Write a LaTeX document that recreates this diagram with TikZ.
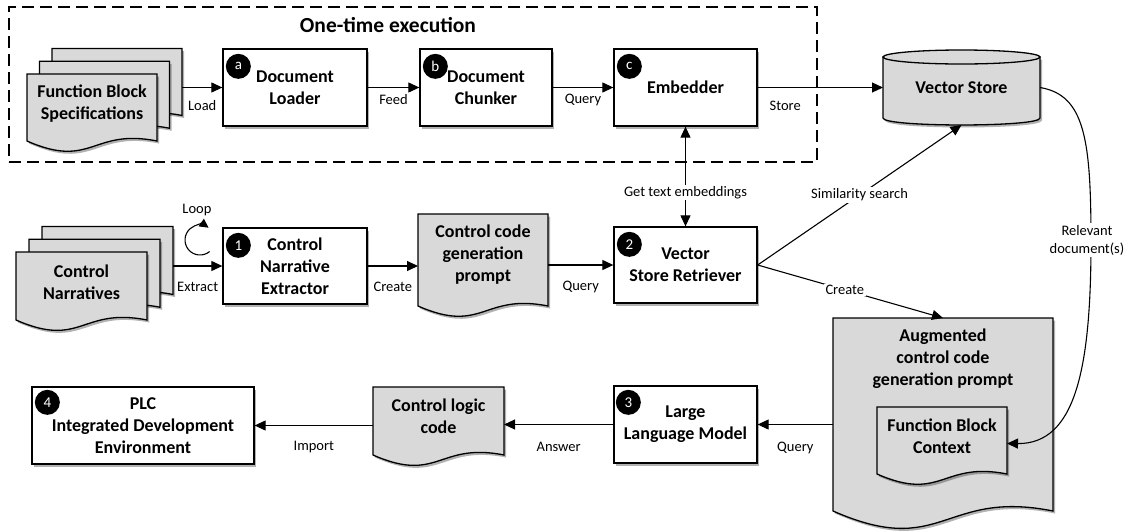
\documentclass[tikz,border=0pt]{standalone}
\usepackage{fontspec}
\setmainfont{Carlito}
\usetikzlibrary{arrows.meta,calc,shadows}
\definecolor{docgray}{RGB}{217,217,217}
\tikzset{
  shd/.style={drop shadow={shadow xshift=2pt,shadow yshift=-2.5pt,opacity=0.3,fill=black}},
  boxnode/.style={draw, line width=1.3pt, fill=white, shd, align=center,
    font=\bfseries\fontsize{18}{22}\selectfont, inner sep=0pt},
  docnode/.style={inner sep=0pt, outer sep=0pt},
  docfill/.style={draw, line width=1.3pt, fill=docgray, shd},
  doctext/.style={align=center, font=\bfseries\fontsize{18}{22}\selectfont, inner sep=0pt},
  badge/.style={circle, fill=black, text=white, inner sep=0pt, minimum size=25pt,
    font=\fontsize{15}{15}\selectfont},
  arr/.style={line width=1.1pt, -{Triangle[length=11pt,width=10pt]}},
  arrtwo/.style={line width=1.1pt, {Triangle[length=11pt,width=10pt]}-{Triangle[length=11pt,width=10pt]}},
  elabel/.style={font=\fontsize{14.5}{18}\selectfont, inner sep=1.5pt, align=center},
  wlabel/.style={elabel, fill=white},
  ttlstyle/.style={font=\bfseries\fontsize{21.5}{26}\selectfont},
  frmbox/.style={draw, line width=1.3pt, dash pattern=on 12pt off 6pt, inner sep=0pt}
}
\newcommand{\docoutline}[1]{%
  \path[docfill] let \p1=($(#1.east)-(#1.west)$) in
    (#1.north west) -- (#1.north east) -- (#1.south east)
    .. controls ($(#1.south)+(0pt,0.1*\x1)$) and ($(#1.south)+(0pt,-0.22*\x1)$) .. (#1.south west) -- cycle;}
\begin{document}
\begin{tikzpicture}[x=1pt,y=-1pt]
\useasboundingbox (0,0) rectangle (1125,531);

% one-time execution frame
\node[frmbox, minimum width=808pt, minimum height=155pt] (frame) at (413,84.5) {};
\node[ttlstyle] (ttl) at (388,25) {One-time execution};

% Function block specifications stack
\node[docnode, minimum width=130pt, minimum height=67pt] (fbs3) at (117,82) {};
\node[docnode, minimum width=130pt, minimum height=67pt] (fbs2) at (104.5,94.75) {};
\node[docnode, minimum width=130pt, minimum height=67pt] (fbs) at (92,107.5) {};
\docoutline{fbs3}
\docoutline{fbs2}
\docoutline{fbs}
\node[doctext] (fbst) at ($(fbs)+(0pt,4pt)$) {Function Block\\Specifications};

% top row boxes
\node[boxnode, minimum width=144pt, minimum height=77pt] (loader) at (295,87.5) {Document\\Loader};
\node[boxnode, minimum width=132pt, minimum height=77pt] (chunker) at (486,87.5) {Document\\Chunker};
\node[boxnode, minimum width=143pt, minimum height=77pt] (emb) at (685.5,87.5) {Embedder};
\node[badge] (ba) at ($(loader.north west)+(16,18)$) {a};
\node[badge] (bb) at ($(chunker.north west)+(16,18)$) {b};
\node[badge] (bc) at ($(emb.north west)+(16,18)$) {c};

% vector store cylinder
\path[docfill] (883,57) -- (883,118) .. controls (883,127.3) and (1040,127.3) .. (1040,118) -- (1040,57) -- cycle;
\draw[line width=1.3pt, fill=docgray] (961.5,57) ellipse [x radius=78.5pt, y radius=7pt];
\node[docnode, minimum width=157pt, minimum height=75pt, font=\bfseries\fontsize{18}{22}\selectfont] (vs) at (961.5,87.5) {Vector Store};

% Control narratives stack
\node[docnode, minimum width=131pt, minimum height=68pt] (cn3) at (107.5,260.5) {};
\node[docnode, minimum width=131pt, minimum height=68pt] (cn2) at (94.5,273.25) {};
\node[docnode, minimum width=131pt, minimum height=68pt] (cn) at (81.5,286) {};
\docoutline{cn3}
\docoutline{cn2}
\docoutline{cn}
\node[doctext] (cnt) at ($(cn)+(0pt,4pt)$) {Control\\Narratives};

% middle row
\node[boxnode, minimum width=144pt, minimum height=76pt] (ext) at (295,266) {Control\\Narrative\\Extractor};
\node[badge] (b1) at ($(ext.north west)+(16,18)$) {1};
\node[docnode, minimum width=130pt, minimum height=92pt] (ccp) at (483,260) {};
\docoutline{ccp}
\node[doctext] (ccpt) at ($(ccp)+(0pt,5pt)$) {Control code\\generation\\prompt};
\node[boxnode, minimum width=143pt, minimum height=76pt] (ret) at (685.5,265) {Vector\\Store Retriever};
\node[badge] (b2) at ($(ret.north west)+(16,18)$) {2};

% augmented prompt
\node[docnode, minimum width=220pt, minimum height=193pt] (aug) at (943,414.5) {};
\docoutline{aug}
\node[doctext] (augt) at (943,359) {Augmented\\control code\\generation prompt};
\node[docnode, minimum width=130pt, minimum height=67pt] (fbc) at (942,440.5) {};
\docoutline{fbc}
\node[doctext] (fbct) at ($(fbc)+(0pt,4.5pt)$) {Function Block\\Context};

% bottom row
\node[boxnode, minimum width=222pt, minimum height=77pt] (plc) at (143,425.5) {PLC\\Integrated Development\\Environment};
\node[badge] (b4) at ($(plc.north west)+(16,16)$) {4};
\node[docnode, minimum width=131pt, minimum height=68pt] (clc) at (438.5,421) {};
\docoutline{clc}
\node[doctext] (clct) at ($(clc)+(0pt,4.5pt)$) {Control logic\\code};
\node[boxnode, minimum width=143pt, minimum height=77pt] (llm) at (685.5,424.5) {Large\\Language Model};
\node[badge] (b3) at ($(llm.north west)+(15,17)$) {3};

% connectors, top row
\draw[arr] (fbs3.east |- loader.west) -- node[elabel, midway, yshift=-18.5pt] (lload) {Load} (loader.west);
\draw[arr] (loader.east) -- node[elabel, midway, yshift=-12.5pt] (lfeed) {Feed} (chunker.west);
\draw[arr] (chunker.east) -- node[elabel, midway, yshift=-12.5pt] (lq1) {Query} (emb.west);
\draw[arr] (emb.east) -- node[elabel, pos=0.22, yshift=-18.5pt] (lstore) {Store} (vs.west);
\draw[arrtwo] (emb.south) -- node[wlabel, pos=0.66] (lget) {Get text embeddings} (ret.north);

% middle row
\draw[arr] (cn3.east |- ext.west) -- node[elabel, midway, yshift=-21pt] (lext) {Extract} (ext.west);
\draw[arr] (ext.east) -- node[elabel, midway, yshift=-21pt] (lcr1) {Create} (ext.east -| ccp.west);
\draw[arr] (ccp.east |- ret.west) -- node[elabel, midway, yshift=-21.5pt] (lq2) {Query} (ret.west);
\draw[arr] (ret.east) -- node[wlabel, pos=0.5] (lsim) {Similarity search} (vs.south);
\draw[arr] (ret.east) -- node[wlabel, pos=0.47] (lcr2) {Create} (aug.north);

% loop
\coordinate (loopc) at (200,240);
\draw[line width=1.1pt, -{Triangle[length=9pt,width=9pt]}] (loopc) ++(-50:15pt) arc[start angle=-50, end angle=-305, radius=15pt];
\node[elabel] (lloop) at (197,210) {Loop};

% relevant documents
\coordinate (rd) at (1091,242);
\draw[arr] (vs.east) .. controls (1085,95) and (1091,140) .. (rd) .. controls (1091,370) and (1075,444) .. ($(fbc.east)+(0,3)$);
\node[wlabel] (lrd) at (1087,240) {Relevant\\document(s)};

% bottom row connectors
\draw[arr] (aug.west |- llm.east) -- node[elabel, midway, yshift=-23pt] (lq3) {Query} (llm.east);
\draw[arr] (llm.west) -- node[elabel, midway, yshift=-22pt] (lans) {Answer} (llm.west -| clc.east);
\draw[arr] (clc.west |- plc.east) -- node[elabel, midway, yshift=-21.5pt] (limp) {Import} (plc.east);
\end{tikzpicture}
\end{document}
